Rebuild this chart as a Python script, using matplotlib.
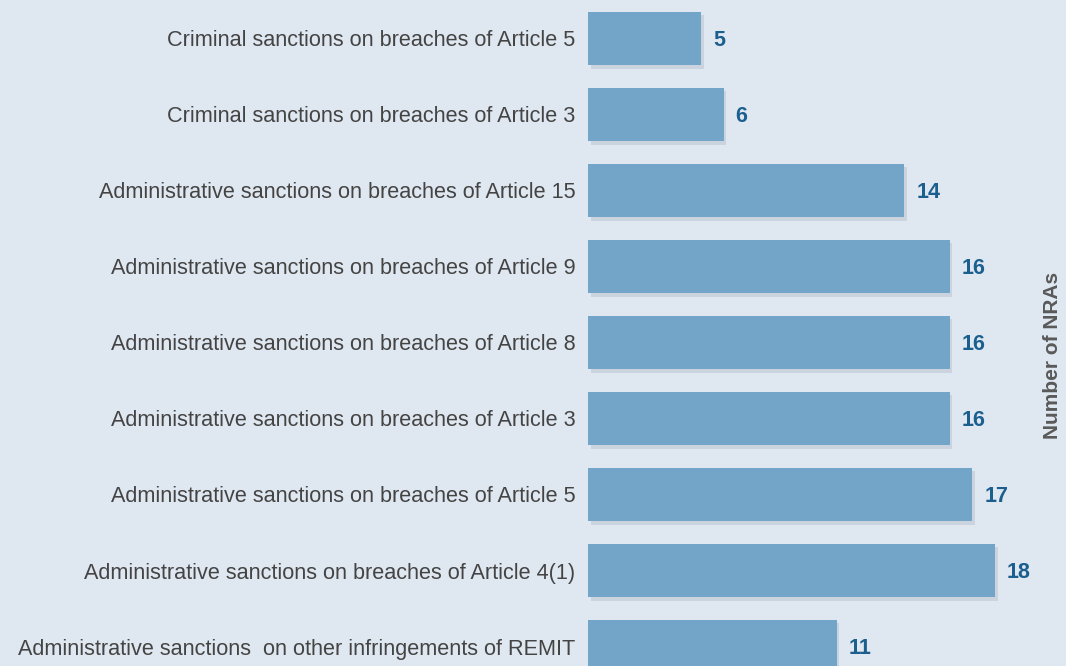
import matplotlib.pyplot as plt
import matplotlib.patheffects as pe

categories = [
    "Criminal sanctions on breaches of Article 5",
    "Criminal sanctions on breaches of Article 3",
    "Administrative sanctions on breaches of Article 15",
    "Administrative sanctions on breaches of Article 9",
    "Administrative sanctions on breaches of Article 8",
    "Administrative sanctions on breaches of Article 3",
    "Administrative sanctions on breaches of Article 5",
    "Administrative sanctions on breaches of Article 4(1)",
    "Administrative sanctions  on other infringements of REMIT",
]
values = [5, 6, 14, 16, 16, 16, 17, 18, 11]

plt.rcParams['font.family'] = ['Liberation Sans', 'DejaVu Sans']

bg = "#dfe7f0"
bar_color = "#72a5c7"
val_color = "#1b5f8f"

fig = plt.figure(figsize=(10.66, 6.66), dpi=100, facecolor=bg)
ax = fig.add_axes([588 / 1066, 0, (1030 - 588) / 1066, 1])
ax.set_facecolor(bg)

pos = list(range(len(categories)))
bars = ax.barh(pos, values, height=0.70, color=bar_color, zorder=2)
for b in bars:
    b.set_path_effects([pe.SimplePatchShadow(offset=(2, -2.5), shadow_rgbFace="#9aa8b6", alpha=0.3), pe.Normal()])

for p, v in zip(pos, values):
    ax.text(v + 0.53, p + 0.03, str(v), va="center", ha="left", fontsize=15.5, fontweight="bold", color=val_color)

ax.set_xlim(0, (1030 - 588) / 22.6)
ax.set_ylim((666 - 38.5) / 76, -38.5 / 76)
ax.set_yticks(pos)
ax.set_yticklabels(categories, fontsize=15.6, color="#444444")
ax.tick_params(axis="y", length=0, pad=9)
ax.set_xticks([])
for s in ax.spines.values():
    s.set_visible(False)

fig.text(1052 / 1066, 1 - 355 / 666, "Number of NRAs", rotation=90, va="center", ha="center",
         fontsize=15, fontweight="bold", color="#595959")

fig.savefig("out.png", dpi=100, facecolor=bg)
